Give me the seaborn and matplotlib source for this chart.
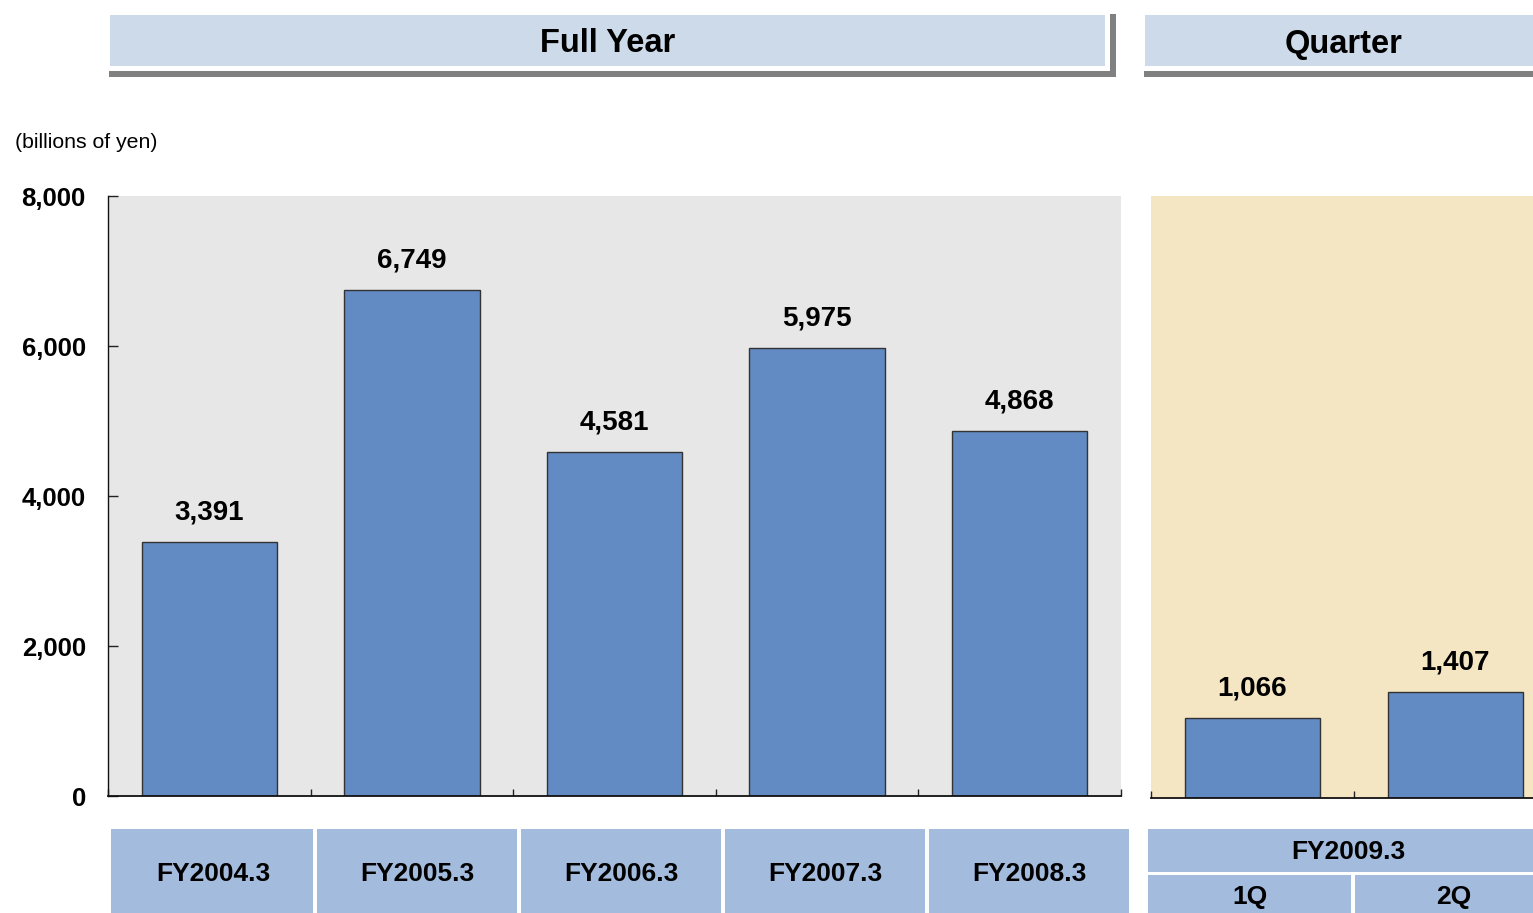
import matplotlib
matplotlib.use('Agg')
import matplotlib.pyplot as plt
import matplotlib.ticker as mticker
from matplotlib.patches import Rectangle
import seaborn as sns

# data
full_years = ['FY2004.3', 'FY2005.3', 'FY2006.3', 'FY2007.3', 'FY2008.3']
full_sales = [3391, 6749, 4581, 5975, 4868]
quarter_fy = 'FY2009.3'
quarter_labels = ['1Q', '2Q']
quarter_sales = [1066, 1407]
y_ticks = [0, 2000, 4000, 6000, 8000]

sns.set_style('white')
plt.rcParams['font.family'] = ['Liberation Sans', 'DejaVu Sans']
plt.rcParams['text.color'] = 'black'
plt.rcParams['xtick.color'] = 'black'
plt.rcParams['ytick.color'] = 'black'

W, H = 1533, 913
fig = plt.figure(figsize=(W / 100, H / 100), dpi=100)

bar_color = '#628BC3'
box_color = '#A3BBDD'
head_color = '#CDDAEA'


def px_axes(x0, x1, y0, y1):
    return fig.add_axes([x0 / W, 1 - y1 / H, (x1 - x0) / W, (y1 - y0) / H])


def px_rect(x0, x1, y0, y1, color):
    fig.patches.append(Rectangle((x0 / W, 1 - y1 / H), (x1 - x0) / W, (y1 - y0) / H,
                                 transform=fig.transFigure, facecolor=color,
                                 edgecolor='none', zorder=0))


def style_axes(ax, n, bg, left_spine):
    ax.set_facecolor(bg)
    ax.set_ylim(0, 8000)
    ax.set_xlim(-0.5, n - 0.5)
    ax.set_yticks(y_ticks)
    ax.yaxis.set_major_formatter(mticker.FuncFormatter(lambda v, p: f'{v:,.0f}'))
    ax.set_xticks([])
    ax.set_xticks([i - 0.5 for i in range(n + 1)], minor=True)
    ax.tick_params(axis='x', which='minor', bottom=True, direction='in', length=5,
                   width=1, color='#222')
    ax.tick_params(axis='y', left=True, direction='in', length=7, width=1, color='#222',
                   pad=16, labelsize=18.5, labelcolor='black')
    for lbl in ax.get_yticklabels():
        lbl.set_fontweight('bold')
    ax.set_xlabel('')
    ax.set_ylabel('')
    for s in ['top', 'right']:
        ax.spines[s].set_visible(False)
    ax.spines['bottom'].set_color('#111')
    ax.spines['bottom'].set_linewidth(1.3)
    if left_spine:
        ax.spines['left'].set_color('#111')
        ax.spines['left'].set_linewidth(1.0)
    else:
        ax.spines['left'].set_visible(False)
        ax.tick_params(axis='y', left=False, labelleft=False)


# full-year panel
ax1 = px_axes(108, 1121, 196, 796)
sns.barplot(x=full_years, y=full_sales, color=bar_color, saturation=1, width=0.668,
            edgecolor='#333', linewidth=1, ax=ax1)
style_axes(ax1, len(full_years), '#E7E7E7', True)
ax1.bar_label(ax1.containers[0], labels=[f'{v:,}' for v in full_sales], padding=12,
              fontsize=20, fontweight='bold', color='black')

# quarter panel
ax2 = px_axes(1151, 1557, 196, 798)
sns.barplot(x=quarter_labels, y=quarter_sales, color=bar_color, saturation=1, width=0.668,
            edgecolor='#333', linewidth=1, ax=ax2)
style_axes(ax2, len(quarter_labels), '#F5E6C3', False)
ax2.bar_label(ax2.containers[0], labels=[f'{v:,}' for v in quarter_sales], padding=12,
              fontsize=20, fontweight='bold', color='black')

# headers
px_rect(109, 1116, 14, 77, '#808080')
px_rect(109, 1110, 14, 71, 'white')
px_rect(110, 1105, 15, 66, head_color)
fig.text(608 / W, 1 - 44 / H, 'Full Year', ha='center', va='center', fontsize=23.5,
         fontweight='bold')
px_rect(1144, 1533, 71, 77, '#808080')
px_rect(1145, 1533, 15, 66, head_color)
fig.text(1344 / W, 1 - 44 / H, 'Quarter', ha='center', va='center', fontsize=23.5,
         fontweight='bold')

fig.text(15 / W, 1 - 142 / H, '(billions of yen)', ha='left', va='center', fontsize=15.3)

# category boxes under the full-year panel
bx0, bw = 111, 204
for i, name in enumerate(full_years):
    x0 = bx0 + i * bw
    px_rect(x0 + (2 if i else 0), x0 + bw - 2, 829, 913, box_color)
    fig.text((x0 + bw / 2) / W, 1 - 874 / H, name, ha='center', va='center',
             fontsize=19, fontweight='bold')

# quarter boxes
px_rect(1148, 1533, 829, 872, box_color)
fig.text(1348 / W, 1 - 852 / H, quarter_fy, ha='center', va='center', fontsize=19,
         fontweight='bold')
qx0, qw = 1148, 204
for i, name in enumerate(quarter_labels):
    x0 = qx0 + i * qw
    px_rect(x0 + (3 if i else 0), x0 + qw - 1, 875, 913, box_color)
    fig.text((x0 + qw / 2) / W, 1 - 897 / H, name, ha='center', va='center',
             fontsize=19, fontweight='bold')

fig.savefig('out.png', dpi=100)
